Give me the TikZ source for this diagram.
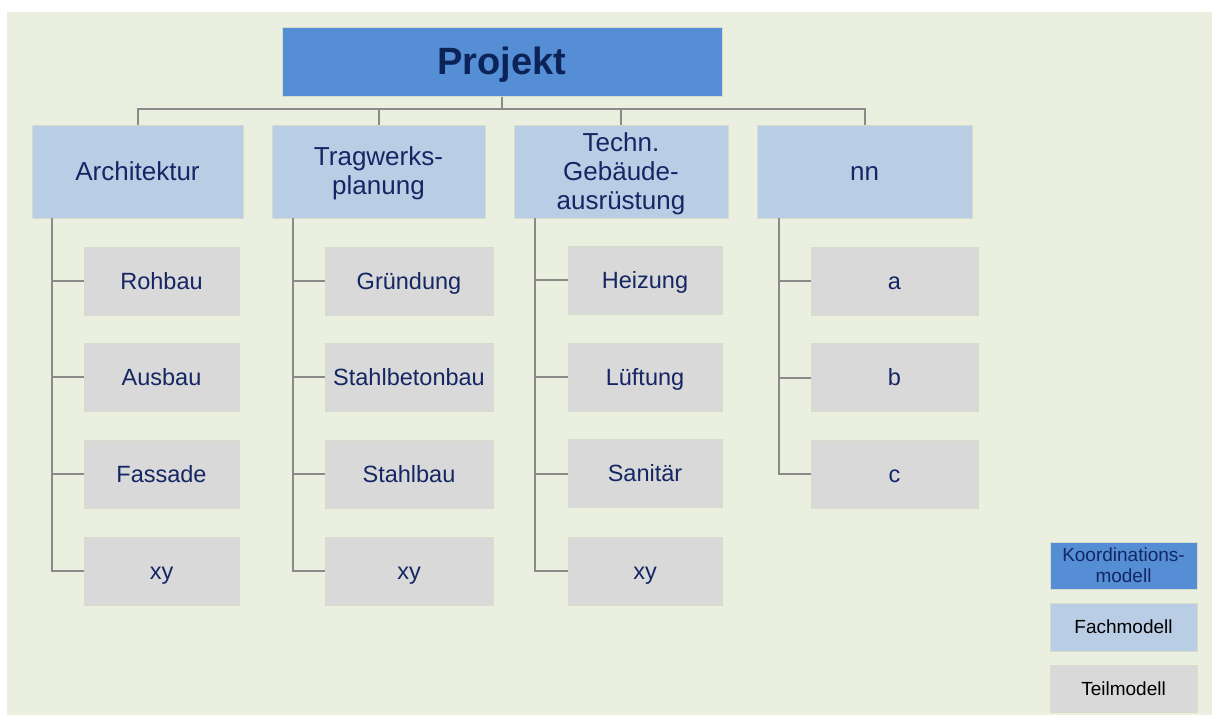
\documentclass[tikz,border=0pt]{standalone}
\usepackage{fontspec}
\setmainfont{Liberation Sans}
\definecolor{panel}{RGB}{235,239,223}
\definecolor{koord}{RGB}{85,142,213}
\definecolor{fach}{RGB}{185,205,229}
\definecolor{teil}{RGB}{217,217,217}
\definecolor{edge}{RGB}{214,220,204}
\definecolor{navy}{RGB}{20,38,100}
\definecolor{darknavy}{RGB}{12,35,88}
\definecolor{conn}{RGB}{138,138,138}
\tikzset{
  box/.style={draw=edge, line width=1pt, inner sep=0pt, align=center, text=navy},
  topbox/.style={box, fill=koord, minimum width=440pt, minimum height=69pt,
    font=\fontsize{38}{42}\selectfont\bfseries, text=darknavy,
    text height=28.5pt, text depth=1.9pt},
  fachbox/.style={box, fill=fach, minimum height=93pt, font=\fontsize{26}{29}\selectfont,
    text depth=1.3pt},
  oneline/.style={text height=19.5pt},
  teilbox/.style={box, fill=teil, minimum height=68pt, font=\fontsize{23.5}{27}\selectfont,
    text height=17.6pt, text depth=1.2pt},
  legbox/.style={box, minimum width=147pt, minimum height=47pt, font=\fontsize{19}{21.5}\selectfont,
    text depth=1pt},
  link/.style={draw=conn, line width=2pt}
}
\begin{document}
\begin{tikzpicture}[x=1pt,y=-1pt]
\useasboundingbox (0,0) rectangle (1212,715);
\fill[white] (0,0) rectangle (1212,715);
\fill[panel] (7,12) rectangle (1212,715);

\coordinate (bar) at (0,109);

\node[topbox] (P) at (502,61.5) {Projekt};

\node[fachbox, oneline, minimum width=211pt] (A) at (137.5,171.5) {Architektur};
\node[fachbox, minimum width=213pt] (T) at (378.5,171.5) {Tragwerks-\\planung};
\node[fachbox, minimum width=214pt] (G) at (621,171.5) {Techn.\\Gebäude-\\ausrüstung};
\node[fachbox, oneline, minimum width=215pt] (N) at (864.5,171.5) {nn};

% leaves
\node[teilbox, minimum width=155pt] (A1) at (161.5,281) {Rohbau};
\node[teilbox, minimum width=155pt] (A2) at (161.5,377) {Ausbau};
\node[teilbox, minimum width=155pt] (A3) at (161.5,474) {Fassade};
\node[teilbox, minimum width=155pt] (A4) at (161.5,571) {xy};

\node[teilbox, minimum width=168pt] (T1) at (409,281) {Gründung};
\node[teilbox, minimum width=168pt] (T2) at (409,377) {Stahlbetonbau};
\node[teilbox, minimum width=168pt] (T3) at (409,474) {Stahlbau};
\node[teilbox, minimum width=168pt] (T4) at (409,571) {xy};

\node[teilbox, minimum width=154pt] (G1) at (645,280) {Heizung};
\node[teilbox, minimum width=154pt] (G2) at (645,377) {Lüftung};
\node[teilbox, minimum width=154pt] (G3) at (645,473.5) {Sanitär};
\node[teilbox, minimum width=154pt] (G4) at (645,571) {xy};

\node[teilbox, minimum width=167pt] (N1) at (894.5,281) {a};
\node[teilbox, minimum width=167pt] (N2) at (894.5,377.5) {b};
\node[teilbox, minimum width=167pt] (N3) at (894.5,474) {c};

% legend
\node[legbox, fill=koord] (L1) at (1123.5,565.5) {Koordinations-\\modell};
\node[legbox, fill=fach, minimum height=48pt, text=black, text height=14.3pt] (L2) at (1123.5,627) {Fachmodell};
\node[legbox, fill=teil, text=black, text height=14.3pt] (L3) at (1123.5,688.5) {Teilmodell};

% top connectors
\draw[link] (P.south) -- (P.south |- bar);
\draw[link] (A.north) -- (A.north |- bar) -- (N.north |- bar) -- (N.north);
\draw[link] (T.north) -- (T.north |- bar);
\draw[link] (G.north) -- (G.north |- bar);

% column spines
\coordinate (As) at (52,218);
\coordinate (Ts) at (293,218);
\coordinate (Gs) at (535,218);
\coordinate (Ns) at (779,218);

\draw[link] (As) |- (A4.west);
\foreach \i in {1,2,3} \draw[link] (A\i.west) -- (A\i.west -| As);
\draw[link] (Ts) |- (T4.west);
\foreach \i in {1,2,3} \draw[link] (T\i.west) -- (T\i.west -| Ts);
\draw[link] (Gs) |- (G4.west);
\foreach \i in {1,2,3} \draw[link] (G\i.west) -- (G\i.west -| Gs);
\draw[link] (Ns) |- (N3.west);
\foreach \i in {1,2} \draw[link] (N\i.west) -- (N\i.west -| Ns);
\end{tikzpicture}
\end{document}
